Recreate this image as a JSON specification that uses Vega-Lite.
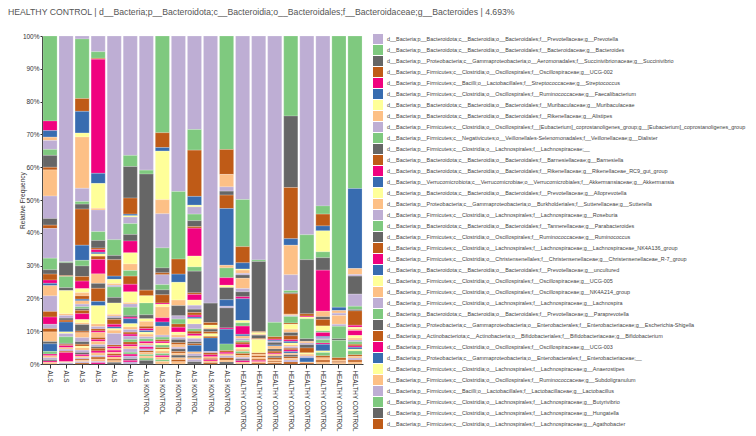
{
  "$schema": "https://vega.github.io/schema/vega-lite/v6.json",
  "width": 321,
  "height": 328,
  "autosize": "none",
  "padding": {"left": 42, "top": 36, "right": 393, "bottom": 72},
  "background": "white",
  "title": {"text": "HEALTHY CONTROL | d__Bacteria;p__Bacteroidota;c__Bacteroidia;o__Bacteroidales;f__Bacteroidaceae;g__Bacteroides | 4.693%", "anchor": "start", "frame": "group", "dx": -34, "offset": 16, "fontSize": 8.7, "fontWeight": "normal", "font": "Liberation Sans", "color": "#555"},
  "data": {"values": [
    {"s":1,"t":1,"v":25.7},{"s":1,"t":4,"v":2.9},{"s":1,"t":5,"v":2.0},{"s":1,"t":7,"v":1.0},{"s":1,"t":8,"v":2.7},{"s":1,"t":9,"v":1.8},{"s":1,"t":10,"v":3.6},{"s":1,"t":11,"v":0.8},{"s":1,"t":15,"v":7.9},{"s":1,"t":16,"v":6.8},{"s":1,"t":18,"v":2.0},{"s":1,"t":19,"v":1.0},{"s":1,"t":24,"v":9.0},{"s":1,"t":25,"v":3.5},{"s":1,"t":26,"v":1.3},{"s":1,"t":27,"v":1.8},{"s":1,"t":28,"v":1.0},{"s":1,"t":29,"v":0.7},{"s":1,"t":31,"v":3.1},{"s":1,"t":32,"v":4.7},{"s":1,"t":35,"v":1.7},{"s":1,"t":36,"v":2.2},{"s":1,"t":40,"v":1.3},{"s":1,"t":43,"v":1.0},{"s":1,"t":47,"v":2.9},{"s":1,"t":50,"v":0.7},{"s":1,"t":53,"v":2.3},{"s":1,"t":57,"v":0.8},{"s":1,"t":60,"v":0.5},{"s":1,"t":63,"v":0.6},{"s":1,"t":64,"v":0.6},{"s":1,"t":66,"v":0.4},{"s":1,"t":68,"v":0.4},{"s":1,"t":71,"v":0.5},
    {"s":2,"t":0,"v":68.9},{"s":2,"t":1,"v":0.3},{"s":2,"t":2,"v":3.9},{"s":2,"t":3,"v":0.3},{"s":2,"t":9,"v":3.4},{"s":2,"t":10,"v":0.9},{"s":2,"t":14,"v":7.1},{"s":2,"t":15,"v":0.5},{"s":2,"t":16,"v":0.8},{"s":2,"t":18,"v":0.6},{"s":2,"t":19,"v":0.6},{"s":2,"t":21,"v":3.0},{"s":2,"t":22,"v":0.5},{"s":2,"t":24,"v":1.0},{"s":2,"t":25,"v":2.0},{"s":2,"t":26,"v":0.3},{"s":2,"t":27,"v":0.4},{"s":2,"t":28,"v":0.6},{"s":2,"t":31,"v":0.5},{"s":2,"t":32,"v":0.6},{"s":2,"t":35,"v":0.4},{"s":2,"t":36,"v":2.8},{"s":2,"t":38,"v":0.3},{"s":2,"t":40,"v":0.4},
    {"s":3,"t":0,"v":0.9},{"s":3,"t":1,"v":18.1},{"s":3,"t":3,"v":3.9},{"s":3,"t":5,"v":6.6},{"s":3,"t":6,"v":1.2},{"s":3,"t":7,"v":15.6},{"s":3,"t":8,"v":4.0},{"s":3,"t":9,"v":0.8},{"s":3,"t":10,"v":1.5},{"s":3,"t":11,"v":11.0},{"s":3,"t":13,"v":4.6},{"s":3,"t":17,"v":1.7},{"s":3,"t":18,"v":3.2},{"s":3,"t":19,"v":1.4},{"s":3,"t":20,"v":2.3},{"s":3,"t":22,"v":1.2},{"s":3,"t":23,"v":1.0},{"s":3,"t":27,"v":1.0},{"s":3,"t":29,"v":0.5},{"s":3,"t":31,"v":1.0},{"s":3,"t":32,"v":0.8},{"s":3,"t":33,"v":0.6},{"s":3,"t":34,"v":0.5},{"s":3,"t":35,"v":1.0},{"s":3,"t":36,"v":1.8},{"s":3,"t":38,"v":1.0},{"s":3,"t":39,"v":0.5},{"s":3,"t":42,"v":2.0},{"s":3,"t":43,"v":0.5},{"s":3,"t":47,"v":1.5},{"s":3,"t":48,"v":1.2},{"s":3,"t":50,"v":0.8},{"s":3,"t":51,"v":0.6},{"s":3,"t":54,"v":0.5},{"s":3,"t":55,"v":0.7},{"s":3,"t":56,"v":0.7},{"s":3,"t":58,"v":0.6},{"s":3,"t":60,"v":0.5},{"s":3,"t":63,"v":0.5},{"s":3,"t":64,"v":0.4},{"s":3,"t":67,"v":0.4},{"s":3,"t":71,"v":0.4},{"s":3,"t":72,"v":0.4},{"s":3,"t":75,"v":0.3},
    {"s":4,"t":0,"v":4.8},{"s":4,"t":1,"v":2.0},{"s":4,"t":3,"v":0.3},{"s":4,"t":4,"v":34.8},{"s":4,"t":5,"v":3.1},{"s":4,"t":6,"v":7.6},{"s":4,"t":7,"v":0.5},{"s":4,"t":8,"v":6.6},{"s":4,"t":9,"v":2.7},{"s":4,"t":10,"v":2.3},{"s":4,"t":11,"v":0.5},{"s":4,"t":12,"v":0.8},{"s":4,"t":13,"v":0.5},{"s":4,"t":14,"v":0.7},{"s":4,"t":19,"v":1.0},{"s":4,"t":20,"v":4.4},{"s":4,"t":23,"v":2.9},{"s":4,"t":26,"v":1.5},{"s":4,"t":27,"v":4.0},{"s":4,"t":29,"v":1.3},{"s":4,"t":30,"v":5.6},{"s":4,"t":31,"v":0.8},{"s":4,"t":32,"v":0.7},{"s":4,"t":35,"v":0.6},{"s":4,"t":36,"v":0.5},{"s":4,"t":39,"v":1.5},{"s":4,"t":43,"v":0.6},{"s":4,"t":44,"v":0.6},{"s":4,"t":47,"v":1.0},{"s":4,"t":48,"v":0.6},{"s":4,"t":50,"v":0.5},{"s":4,"t":51,"v":0.8},{"s":4,"t":52,"v":0.6},{"s":4,"t":55,"v":0.8},{"s":4,"t":56,"v":0.5},{"s":4,"t":59,"v":0.6},{"s":4,"t":63,"v":0.7},{"s":4,"t":64,"v":0.4},{"s":4,"t":68,"v":0.4},
    {"s":5,"t":0,"v":62.1},{"s":5,"t":1,"v":4.8},{"s":5,"t":2,"v":1.3},{"s":5,"t":3,"v":5.0},{"s":5,"t":5,"v":1.0},{"s":5,"t":6,"v":1.3},{"s":5,"t":7,"v":0.5},{"s":5,"t":8,"v":0.5},{"s":5,"t":9,"v":3.2},{"s":5,"t":10,"v":1.7},{"s":5,"t":14,"v":3.5},{"s":5,"t":15,"v":0.5},{"s":5,"t":16,"v":0.5},{"s":5,"t":18,"v":0.5},{"s":5,"t":19,"v":1.5},{"s":5,"t":20,"v":0.8},{"s":5,"t":21,"v":0.5},{"s":5,"t":22,"v":0.5},{"s":5,"t":23,"v":1.0},{"s":5,"t":24,"v":3.5},{"s":5,"t":27,"v":0.5},{"s":5,"t":28,"v":0.6},{"s":5,"t":31,"v":0.5},{"s":5,"t":36,"v":0.6},{"s":5,"t":39,"v":0.5},{"s":5,"t":43,"v":0.5},{"s":5,"t":44,"v":0.5},{"s":5,"t":47,"v":0.6},{"s":5,"t":51,"v":0.5},{"s":5,"t":55,"v":0.5},{"s":5,"t":58,"v":0.5},
    {"s":6,"t":0,"v":36.4},{"s":6,"t":1,"v":3.4},{"s":6,"t":2,"v":9.6},{"s":6,"t":3,"v":4.9},{"s":6,"t":5,"v":0.5},{"s":6,"t":6,"v":0.4},{"s":6,"t":8,"v":2.0},{"s":6,"t":9,"v":3.3},{"s":6,"t":10,"v":2.0},{"s":6,"t":12,"v":3.6},{"s":6,"t":14,"v":3.4},{"s":6,"t":15,"v":2.0},{"s":6,"t":17,"v":1.7},{"s":6,"t":19,"v":2.5},{"s":6,"t":20,"v":2.3},{"s":6,"t":22,"v":3.3},{"s":6,"t":23,"v":0.4},{"s":6,"t":24,"v":1.0},{"s":6,"t":25,"v":2.5},{"s":6,"t":26,"v":0.5},{"s":6,"t":28,"v":0.5},{"s":6,"t":29,"v":1.5},{"s":6,"t":30,"v":1.0},{"s":6,"t":31,"v":0.8},{"s":6,"t":32,"v":0.8},{"s":6,"t":35,"v":0.6},{"s":6,"t":36,"v":0.6},{"s":6,"t":40,"v":1.0},{"s":6,"t":41,"v":0.8},{"s":6,"t":43,"v":0.7},{"s":6,"t":44,"v":0.6},{"s":6,"t":47,"v":0.8},{"s":6,"t":48,"v":1.0},{"s":6,"t":49,"v":0.6},{"s":6,"t":52,"v":0.6},{"s":6,"t":56,"v":0.8},{"s":6,"t":58,"v":0.5},{"s":6,"t":60,"v":0.5},{"s":6,"t":64,"v":0.6},
    {"s":7,"t":0,"v":40.9},{"s":7,"t":1,"v":1.2},{"s":7,"t":2,"v":35.4},{"s":7,"t":3,"v":1.7},{"s":7,"t":6,"v":2.2},{"s":7,"t":9,"v":3.6},{"s":7,"t":10,"v":1.2},{"s":7,"t":14,"v":0.8},{"s":7,"t":15,"v":1.5},{"s":7,"t":19,"v":0.7},{"s":7,"t":20,"v":0.6},{"s":7,"t":21,"v":0.5},{"s":7,"t":22,"v":0.6},{"s":7,"t":23,"v":0.8},{"s":7,"t":24,"v":0.6},{"s":7,"t":25,"v":0.8},{"s":7,"t":28,"v":0.6},{"s":7,"t":31,"v":0.6},{"s":7,"t":32,"v":0.5},{"s":7,"t":36,"v":0.6},{"s":7,"t":40,"v":0.6},{"s":7,"t":43,"v":0.5},{"s":7,"t":47,"v":0.6},{"s":7,"t":49,"v":0.5},{"s":7,"t":55,"v":0.6},{"s":7,"t":57,"v":0.7},{"s":7,"t":58,"v":1.1},
    {"s":8,"t":1,"v":29.5},{"s":8,"t":3,"v":4.5},{"s":8,"t":5,"v":1.1},{"s":8,"t":6,"v":14.8},{"s":8,"t":7,"v":4.3},{"s":8,"t":8,"v":10.4},{"s":8,"t":9,"v":6.1},{"s":8,"t":10,"v":1.5},{"s":8,"t":11,"v":0.6},{"s":8,"t":16,"v":3.0},{"s":8,"t":17,"v":1.6},{"s":8,"t":18,"v":1.5},{"s":8,"t":19,"v":2.5},{"s":8,"t":20,"v":0.4},{"s":8,"t":22,"v":0.8},{"s":8,"t":23,"v":3.3},{"s":8,"t":28,"v":1.3},{"s":8,"t":29,"v":1.3},{"s":8,"t":31,"v":2.7},{"s":8,"t":32,"v":0.6},{"s":8,"t":33,"v":0.8},{"s":8,"t":35,"v":0.5},{"s":8,"t":36,"v":0.5},{"s":8,"t":38,"v":0.6},{"s":8,"t":41,"v":0.8},{"s":8,"t":43,"v":0.5},{"s":8,"t":46,"v":0.5},{"s":8,"t":47,"v":0.8},{"s":8,"t":49,"v":0.6},{"s":8,"t":52,"v":0.5},{"s":8,"t":55,"v":0.8},{"s":8,"t":57,"v":0.5},{"s":8,"t":63,"v":0.8},
    {"s":9,"t":0,"v":47.4},{"s":9,"t":1,"v":20.6},{"s":9,"t":3,"v":4.6},{"s":9,"t":5,"v":2.5},{"s":9,"t":6,"v":5.4},{"s":9,"t":7,"v":1.7},{"s":9,"t":10,"v":3.1},{"s":9,"t":16,"v":1.0},{"s":9,"t":17,"v":1.5},{"s":9,"t":19,"v":1.0},{"s":9,"t":20,"v":1.5},{"s":9,"t":22,"v":0.8},{"s":9,"t":23,"v":0.8},{"s":9,"t":24,"v":0.6},{"s":9,"t":26,"v":1.0},{"s":9,"t":27,"v":0.6},{"s":9,"t":31,"v":0.8},{"s":9,"t":32,"v":0.5},{"s":9,"t":34,"v":0.8},{"s":9,"t":35,"v":0.5},{"s":9,"t":39,"v":0.6},{"s":9,"t":42,"v":0.8},{"s":9,"t":47,"v":0.6},{"s":9,"t":51,"v":0.6},{"s":9,"t":55,"v":0.7},
    {"s":10,"t":0,"v":28.5},{"s":10,"t":1,"v":6.3},{"s":10,"t":3,"v":14.1},{"s":10,"t":5,"v":2.7},{"s":10,"t":6,"v":0.5},{"s":10,"t":8,"v":2.2},{"s":10,"t":9,"v":2.0},{"s":10,"t":10,"v":1.8},{"s":10,"t":11,"v":0.5},{"s":10,"t":12,"v":8.5},{"s":10,"t":14,"v":3.3},{"s":10,"t":17,"v":1.3},{"s":10,"t":18,"v":6.6},{"s":10,"t":19,"v":0.5},{"s":10,"t":20,"v":1.7},{"s":10,"t":22,"v":1.6},{"s":10,"t":24,"v":1.2},{"s":10,"t":26,"v":1.0},{"s":10,"t":27,"v":0.8},{"s":10,"t":28,"v":0.6},{"s":10,"t":29,"v":0.5},{"s":10,"t":30,"v":1.6},{"s":10,"t":32,"v":1.5},{"s":10,"t":33,"v":0.7},{"s":10,"t":35,"v":0.8},{"s":10,"t":36,"v":0.6},{"s":10,"t":38,"v":0.8},{"s":10,"t":40,"v":1.0},{"s":10,"t":42,"v":0.6},{"s":10,"t":43,"v":0.5},{"s":10,"t":45,"v":2.0},{"s":10,"t":47,"v":0.6},{"s":10,"t":48,"v":0.7},{"s":10,"t":50,"v":0.5},{"s":10,"t":55,"v":0.5},{"s":10,"t":56,"v":0.7},{"s":10,"t":58,"v":0.7},
    {"s":11,"t":0,"v":81.2},{"s":11,"t":2,"v":5.9},{"s":11,"t":3,"v":0.8},{"s":11,"t":6,"v":0.8},{"s":11,"t":7,"v":0.4},{"s":11,"t":10,"v":0.8},{"s":11,"t":11,"v":0.6},{"s":11,"t":14,"v":0.8},{"s":11,"t":19,"v":0.5},{"s":11,"t":21,"v":4.1},{"s":11,"t":24,"v":0.4},{"s":11,"t":27,"v":0.6},{"s":11,"t":28,"v":0.6},{"s":11,"t":31,"v":0.5},{"s":11,"t":35,"v":0.4},{"s":11,"t":36,"v":0.4},{"s":11,"t":39,"v":0.5},{"s":11,"t":43,"v":0.4},
    {"s":12,"t":1,"v":34.6},{"s":12,"t":3,"v":7.6},{"s":12,"t":7,"v":3.8},{"s":12,"t":8,"v":1.3},{"s":12,"t":10,"v":1.2},{"s":12,"t":11,"v":4.1},{"s":12,"t":13,"v":17.3},{"s":12,"t":15,"v":0.8},{"s":12,"t":17,"v":3.0},{"s":12,"t":20,"v":2.3},{"s":12,"t":22,"v":0.7},{"s":12,"t":26,"v":3.7},{"s":12,"t":29,"v":2.0},{"s":12,"t":32,"v":0.5},{"s":12,"t":34,"v":6.1},{"s":12,"t":36,"v":0.4},{"s":12,"t":37,"v":4.5},{"s":12,"t":41,"v":2.0},{"s":12,"t":43,"v":0.5},{"s":12,"t":44,"v":0.5},{"s":12,"t":47,"v":0.6},{"s":12,"t":48,"v":0.6},{"s":12,"t":51,"v":0.7},{"s":12,"t":55,"v":0.6},{"s":12,"t":58,"v":0.6},
    {"s":13,"t":0,"v":49.6},{"s":13,"t":1,"v":14.3},{"s":13,"t":3,"v":4.9},{"s":13,"t":5,"v":1.9},{"s":13,"t":6,"v":0.3},{"s":13,"t":7,"v":1.0},{"s":13,"t":8,"v":0.5},{"s":13,"t":10,"v":1.0},{"s":13,"t":15,"v":3.1},{"s":13,"t":16,"v":1.0},{"s":13,"t":18,"v":1.5},{"s":13,"t":20,"v":0.6},{"s":13,"t":21,"v":6.6},{"s":13,"t":22,"v":0.7},{"s":13,"t":25,"v":1.0},{"s":13,"t":28,"v":2.5},{"s":13,"t":29,"v":0.5},{"s":13,"t":31,"v":0.8},{"s":13,"t":32,"v":0.6},{"s":13,"t":33,"v":0.5},{"s":13,"t":35,"v":0.6},{"s":13,"t":36,"v":1.0},{"s":13,"t":38,"v":0.5},{"s":13,"t":39,"v":0.7},{"s":13,"t":41,"v":0.6},{"s":13,"t":43,"v":0.6},{"s":13,"t":47,"v":0.6},{"s":13,"t":48,"v":0.5},{"s":13,"t":50,"v":0.5},{"s":13,"t":52,"v":0.5},{"s":13,"t":55,"v":0.5},
    {"s":14,"t":0,"v":68.4},{"s":14,"t":1,"v":0.5},{"s":14,"t":2,"v":21.4},{"s":14,"t":3,"v":0.3},{"s":14,"t":6,"v":0.5},{"s":14,"t":7,"v":0.3},{"s":14,"t":10,"v":1.0},{"s":14,"t":11,"v":0.3},{"s":14,"t":14,"v":4.1},{"s":14,"t":19,"v":0.4},{"s":14,"t":23,"v":0.5},{"s":14,"t":27,"v":0.5},{"s":14,"t":31,"v":0.5},{"s":14,"t":35,"v":0.4},{"s":14,"t":36,"v":0.4},{"s":14,"t":39,"v":0.4},{"s":14,"t":43,"v":0.3},
    {"s":15,"t":0,"v":87.3},{"s":15,"t":1,"v":4.4},{"s":15,"t":3,"v":0.7},{"s":15,"t":4,"v":0.3},{"s":15,"t":5,"v":0.3},{"s":15,"t":8,"v":0.4},{"s":15,"t":10,"v":0.8},{"s":15,"t":13,"v":0.3},{"s":15,"t":15,"v":0.9},{"s":15,"t":18,"v":0.7},{"s":15,"t":19,"v":0.6},{"s":15,"t":20,"v":0.3},{"s":15,"t":23,"v":0.6},{"s":15,"t":26,"v":0.5},{"s":15,"t":27,"v":0.6},{"s":15,"t":31,"v":0.4},{"s":15,"t":35,"v":0.3},{"s":15,"t":39,"v":0.3},{"s":15,"t":43,"v":0.3},
    {"s":16,"t":1,"v":24.4},{"s":16,"t":2,"v":21.8},{"s":16,"t":3,"v":15.6},{"s":16,"t":5,"v":2.0},{"s":16,"t":7,"v":9.0},{"s":16,"t":8,"v":4.8},{"s":16,"t":9,"v":0.7},{"s":16,"t":10,"v":0.3},{"s":16,"t":11,"v":6.2},{"s":16,"t":15,"v":0.4},{"s":16,"t":16,"v":0.3},{"s":16,"t":17,"v":2.0},{"s":16,"t":19,"v":0.4},{"s":16,"t":22,"v":1.5},{"s":16,"t":23,"v":1.0},{"s":16,"t":26,"v":1.0},{"s":16,"t":27,"v":1.2},{"s":16,"t":28,"v":0.5},{"s":16,"t":29,"v":0.5},{"s":16,"t":30,"v":0.6},{"s":16,"t":31,"v":0.5},{"s":16,"t":32,"v":0.5},{"s":16,"t":35,"v":0.5},{"s":16,"t":36,"v":0.5},{"s":16,"t":37,"v":0.5},{"s":16,"t":39,"v":0.5},{"s":16,"t":42,"v":0.6},{"s":16,"t":43,"v":0.5},{"s":16,"t":47,"v":0.5},{"s":16,"t":48,"v":0.6},{"s":16,"t":51,"v":0.6},
    {"s":17,"t":0,"v":60.6},{"s":17,"t":1,"v":7.6},{"s":17,"t":2,"v":16.5},{"s":17,"t":3,"v":0.7},{"s":17,"t":4,"v":0.3},{"s":17,"t":6,"v":0.5},{"s":17,"t":9,"v":6.1},{"s":17,"t":10,"v":0.8},{"s":17,"t":15,"v":0.5},{"s":17,"t":16,"v":0.5},{"s":17,"t":18,"v":1.0},{"s":17,"t":19,"v":1.5},{"s":17,"t":22,"v":0.4},{"s":17,"t":23,"v":0.6},{"s":17,"t":24,"v":0.5},{"s":17,"t":29,"v":1.3},{"s":17,"t":31,"v":0.3},{"s":17,"t":35,"v":0.3},
    {"s":18,"t":0,"v":51.8},{"s":18,"t":1,"v":2.5},{"s":18,"t":3,"v":3.6},{"s":18,"t":5,"v":1.5},{"s":18,"t":6,"v":6.4},{"s":18,"t":9,"v":1.8},{"s":18,"t":10,"v":3.8},{"s":18,"t":12,"v":12.5},{"s":18,"t":15,"v":1.7},{"s":18,"t":18,"v":0.8},{"s":18,"t":19,"v":2.0},{"s":18,"t":22,"v":1.5},{"s":18,"t":25,"v":0.5},{"s":18,"t":28,"v":1.2},{"s":18,"t":29,"v":0.4},{"s":18,"t":32,"v":0.6},{"s":18,"t":33,"v":1.0},{"s":18,"t":36,"v":0.4},{"s":18,"t":37,"v":2.0},{"s":18,"t":38,"v":0.5},{"s":18,"t":41,"v":1.0},{"s":18,"t":43,"v":0.6},{"s":18,"t":47,"v":0.7},{"s":18,"t":51,"v":0.6},{"s":18,"t":55,"v":0.6},
    {"s":19,"t":1,"v":82.7},{"s":19,"t":5,"v":1.0},{"s":19,"t":7,"v":0.8},{"s":19,"t":8,"v":0.7},{"s":19,"t":15,"v":2.7},{"s":19,"t":16,"v":0.6},{"s":19,"t":17,"v":3.8},{"s":19,"t":18,"v":0.5},{"s":19,"t":25,"v":5.3},{"s":19,"t":27,"v":0.7},{"s":19,"t":31,"v":0.4},{"s":19,"t":35,"v":0.4},{"s":19,"t":39,"v":0.4},
    {"s":20,"t":1,"v":46.5},{"s":20,"t":5,"v":24.4},{"s":20,"t":7,"v":1.8},{"s":20,"t":8,"v":0.5},{"s":20,"t":10,"v":5.5},{"s":20,"t":16,"v":3.7},{"s":20,"t":17,"v":1.0},{"s":20,"t":18,"v":0.4},{"s":20,"t":19,"v":4.4},{"s":20,"t":20,"v":0.6},{"s":20,"t":22,"v":0.5},{"s":20,"t":23,"v":0.5},{"s":20,"t":28,"v":1.5},{"s":20,"t":30,"v":0.8},{"s":20,"t":31,"v":0.6},{"s":20,"t":32,"v":0.5},{"s":20,"t":33,"v":0.8},{"s":20,"t":35,"v":0.5},{"s":20,"t":36,"v":0.4},{"s":20,"t":37,"v":0.6},{"s":20,"t":38,"v":0.5},{"s":20,"t":41,"v":1.2},{"s":20,"t":43,"v":0.5},{"s":20,"t":47,"v":0.5},{"s":20,"t":48,"v":0.6},{"s":20,"t":51,"v":0.6},{"s":20,"t":55,"v":0.6}
  ]},
  "mark": {"type": "bar", "stroke": "white", "strokeWidth": 0.2},
  "encoding": {
    "x": {"field": "s", "type": "ordinal", "scale": {"paddingInner": 0.12, "paddingOuter": 0.06},
      "axis": {"title": null, "labelAngle": 90, "labelFontSize": 6.3, "labelFont": "Liberation Sans", "labelColor": "#333", "tickSize": 4, "labelPadding": 2, "domainColor": "#333", "tickColor": "#333",
        "labelExpr": "datum.value <= 6 ? 'ALS' : (datum.value <= 12 ? 'ALS KONTROL' : 'HEALTHY CONTROL')"}},
    "y": {"field": "v", "type": "quantitative", "stack": "normalize",
      "axis": {"title": "Relative Frequency", "format": ".0%", "values": [0,0.1,0.2,0.3,0.4,0.5,0.6,0.7,0.8,0.9,1], "grid": false, "labelFontSize": 6.5, "labelFont": "Liberation Sans", "labelColor": "#333", "labelPadding": 1, "tickSize": 2, "titleFont": "Liberation Sans", "titleFontSize": 6.6, "titleFontWeight": "normal", "titleColor": "#333", "titleX": -19.5, "titleY": 164, "titleAngle": -90, "titleAlign": "center", "titleBaseline": "middle", "domainColor": "#333", "tickColor": "#333"}},
    "order": {"field": "t", "type": "quantitative", "sort": "descending"},
    "color": {"field": "t", "type": "ordinal",
      "scale": {"domain": [0,1,2,3,4,5,6,7,8,9,10,11,12,13,14,15,16,17,18,19,20,21,22,23,24,25,26,27,28,29,30,31,32,33,34,35,36,37,38,39,40,41,42,43,44,45,46,47,48,49,50,51,52,53,54,55,56,57,58,59,60,61,62,63,64,65,66,67,68,69,70,71,72,73,74,75],
        "range": ["#beaed4","#7fc97f","#666666","#bf5b17","#f0027f","#386cb0","#ffff99","#fdc086"]},
      "legend": {"orient": "none", "legendX": 331, "legendY": -2, "title": null, "padding": 0, "symbolLimit": 50,
        "values": [0,1,2,3,4,5,6,7,8,9,10,11,12,13,14,15,16,17,18,19,20,21,22,23,24,25,26,27,28,29,30,31,32,33,34,35],
        "symbolType": "square", "symbolSize": 100, "symbolStrokeWidth": 0, "symbolOpacity": 1,
        "labelFontSize": 5.45, "labelFont": "Liberation Sans", "labelColor": "#444", "labelLimit": 420, "labelOffset": 4, "rowPadding": 1,
        "labelExpr": "['d__Bacteria;p__Bacteroidota;c__Bacteroidia;o__Bacteroidales;f__Prevotellaceae;g__Prevotella','d__Bacteria;p__Bacteroidota;c__Bacteroidia;o__Bacteroidales;f__Bacteroidaceae;g__Bacteroides','d__Bacteria;p__Proteobacteria;c__Gammaproteobacteria;o__Aeromonadales;f__Succinivibrionaceae;g__Succinivibrio','d__Bacteria;p__Firmicutes;c__Clostridia;o__Oscillospirales;f__Oscillospiraceae;g__UCG-002','d__Bacteria;p__Firmicutes;c__Bacilli;o__Lactobacillales;f__Streptococcaceae;g__Streptococcus','d__Bacteria;p__Firmicutes;c__Clostridia;o__Oscillospirales;f__Ruminococcaceae;g__Faecalibacterium','d__Bacteria;p__Bacteroidota;c__Bacteroidia;o__Bacteroidales;f__Muribaculaceae;g__Muribaculaceae','d__Bacteria;p__Bacteroidota;c__Bacteroidia;o__Bacteroidales;f__Rikenellaceae;g__Alistipes','d__Bacteria;p__Firmicutes;c__Clostridia;o__Oscillospirales;f__[Eubacterium]_coprostanoligenes_group;g__[Eubacterium]_coprostanoligenes_group','d__Bacteria;p__Firmicutes;c__Negativicutes;o__Veillonellales-Selenomonadales;f__Veillonellaceae;g__Dialister','d__Bacteria;p__Firmicutes;c__Clostridia;o__Lachnospirales;f__Lachnospiraceae;__','d__Bacteria;p__Bacteroidota;c__Bacteroidia;o__Bacteroidales;f__Barnesiellaceae;g__Barnesiella','d__Bacteria;p__Bacteroidota;c__Bacteroidia;o__Bacteroidales;f__Rikenellaceae;g__Rikenellaceae_RC9_gut_group','d__Bacteria;p__Verrucomicrobiota;c__Verrucomicrobiae;o__Verrucomicrobiales;f__Akkermansiaceae;g__Akkermansia','d__Bacteria;p__Bacteroidota;c__Bacteroidia;o__Bacteroidales;f__Prevotellaceae;g__Alloprevotella','d__Bacteria;p__Proteobacteria;c__Gammaproteobacteria;o__Burkholderiales;f__Sutterellaceae;g__Sutterella','d__Bacteria;p__Firmicutes;c__Clostridia;o__Lachnospirales;f__Lachnospiraceae;g__Roseburia','d__Bacteria;p__Bacteroidota;c__Bacteroidia;o__Bacteroidales;f__Tannerellaceae;g__Parabacteroides','d__Bacteria;p__Firmicutes;c__Clostridia;o__Oscillospirales;f__Ruminococcaceae;g__Ruminococcus','d__Bacteria;p__Firmicutes;c__Clostridia;o__Lachnospirales;f__Lachnospiraceae;g__Lachnospiraceae_NK4A136_group','d__Bacteria;p__Firmicutes;c__Clostridia;o__Christensenellales;f__Christensenellaceae;g__Christensenellaceae_R-7_group','d__Bacteria;p__Bacteroidota;c__Bacteroidia;o__Bacteroidales;f__Prevotellaceae;g__uncultured','d__Bacteria;p__Firmicutes;c__Clostridia;o__Oscillospirales;f__Oscillospiraceae;g__UCG-005','d__Bacteria;p__Firmicutes;c__Clostridia;o__Oscillospirales;f__Oscillospiraceae;g__NK4A214_group','d__Bacteria;p__Firmicutes;c__Clostridia;o__Lachnospirales;f__Lachnospiraceae;g__Lachnospira','d__Bacteria;p__Bacteroidota;c__Bacteroidia;o__Bacteroidales;f__Prevotellaceae;g__Paraprevotella','d__Bacteria;p__Proteobacteria;c__Gammaproteobacteria;o__Enterobacterales;f__Enterobacteriaceae;g__Escherichia-Shigella','d__Bacteria;p__Actinobacteriota;c__Actinobacteria;o__Bifidobacteriales;f__Bifidobacteriaceae;g__Bifidobacterium','d__Bacteria;p__Firmicutes;c__Clostridia;o__Oscillospirales;f__Oscillospiraceae;g__UCG-003','d__Bacteria;p__Proteobacteria;c__Gammaproteobacteria;o__Enterobacterales;f__Enterobacteriaceae;__','d__Bacteria;p__Firmicutes;c__Clostridia;o__Lachnospirales;f__Lachnospiraceae;g__Anaerostipes','d__Bacteria;p__Firmicutes;c__Clostridia;o__Oscillospirales;f__Ruminococcaceae;g__Subdoligranulum','d__Bacteria;p__Firmicutes;c__Bacilli;o__Lactobacillales;f__Lactobacillaceae;g__Lactobacillus','d__Bacteria;p__Firmicutes;c__Clostridia;o__Lachnospirales;f__Lachnospiraceae;g__Butyrivibrio','d__Bacteria;p__Firmicutes;c__Clostridia;o__Lachnospirales;f__Lachnospiraceae;g__Hungatella','d__Bacteria;p__Firmicutes;c__Clostridia;o__Lachnospirales;f__Lachnospiraceae;g__Agathobacter'][datum.value]"}}
  },
  "config": {"view": {"stroke": null}}
}
